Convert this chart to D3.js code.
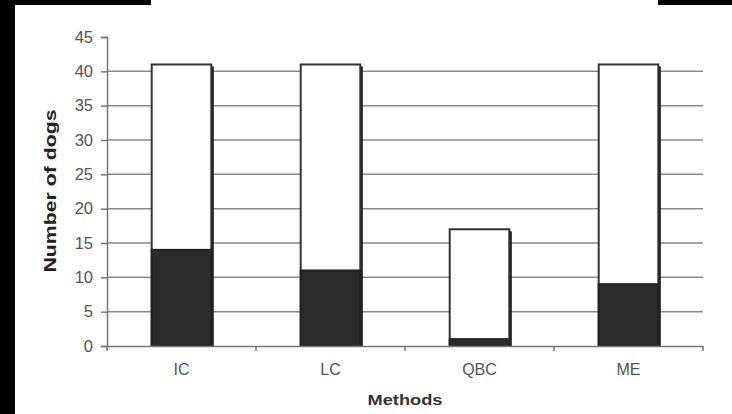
<!DOCTYPE html>
<html><head><meta charset="utf-8">
<script src="https://cdn.jsdelivr.net/npm/d3@7"></script>
<style>body{margin:0;background:#fff}svg{display:block}</style>
</head><body>
<script>
const categories = ["IC", "LC", "QBC", "ME"];
const darkValues = [14, 11, 1, 9];
const totalValues = [41, 41, 17, 41];
const yTicks = [0, 5, 10, 15, 20, 25, 30, 35, 40, 45];

const W = 732, H = 414;
const FONT = "Liberation Sans, Arial, sans-serif";
const svg = d3.select("body").append("svg").attr("width", W).attr("height", H);
svg.append("rect").attr("width", W).attr("height", H).attr("fill", "#fff");
// black scan borders
svg.append("rect").attr("x", 0).attr("y", 0).attr("width", 15).attr("height", H).attr("fill", "#000");
svg.append("rect").attr("x", 0).attr("y", 0).attr("width", 151).attr("height", 5).attr("fill", "#000");
svg.append("rect").attr("x", 658).attr("y", 0).attr("width", 74).attr("height", 5).attr("fill", "#000");

const x = d3.scaleBand().domain(categories).range([107, 703]).paddingInner(0.6).paddingOuter(0.3);
const xb = d3.scaleBand().domain(categories).range([107, 703]);
const y = d3.scaleLinear().domain([0, 45]).range([346, 37]);

// gridlines
svg.append("g").selectAll("line").data(yTicks.filter(d => d > 0 && d < 45)).join("line")
  .attr("x1", 107).attr("x2", 703).attr("y1", d => y(d)).attr("y2", d => y(d))
  .attr("stroke", "#8a8a8a").attr("stroke-width", 1.5);

// y axis
const yAxis = d3.axisLeft(y).tickValues(yTicks).tickSize(6).tickPadding(8);
const gy = svg.append("g").attr("transform", "translate(107,0)").call(yAxis);
gy.select(".domain").attr("stroke", "#777").attr("stroke-width", 1.5);
gy.selectAll(".tick line").attr("stroke", "#777").attr("stroke-width", 1.5);
gy.selectAll("text").attr("font-family", FONT).attr("font-size", 16.5).attr("fill", "#555");

// bars
const data = categories.map((c, i) => ({c, dark: darkValues[i], total: totalValues[i]}));
const bw = x.bandwidth();
const gb = svg.append("g");
data.forEach(d => {
  const x0 = x(d.c);
  gb.append("rect").attr("x", x0 + bw - 1).attr("y", y(d.total) + 2).attr("width", 3.5).attr("height", y(0) - y(d.total) - 2).attr("fill", "#1a1a1a");
  gb.append("rect").attr("x", x0).attr("y", y(d.total)).attr("width", bw).attr("height", y(0) - y(d.total))
    .attr("fill", "#fff").attr("stroke", "#333").attr("stroke-width", 2);
  gb.append("rect").attr("x", x0).attr("y", y(d.dark)).attr("width", bw).attr("height", y(0) - y(d.dark))
    .attr("fill", "#2b2b2b").attr("stroke", "#222").attr("stroke-width", 2);
});

// x axis
const xAxis = d3.axisBottom(xb).tickSize(0).tickPadding(18);
const gx = svg.append("g").attr("transform", "translate(0,346)").call(xAxis);
gx.select(".domain").attr("stroke", "#777").attr("stroke-width", 1.5);
gx.selectAll("text").attr("font-family", FONT).attr("font-size", 16).attr("fill", "#555");
svg.append("g").selectAll("line").data(categories).join("line")
  .attr("x1", d => xb(d)).attr("x2", d => xb(d)).attr("y1", 346).attr("y2", 351)
  .attr("stroke", "#777").attr("stroke-width", 1.5);
svg.append("line").attr("x1", 703).attr("x2", 703).attr("y1", 346).attr("y2", 351).attr("stroke", "#777").attr("stroke-width", 1.5);

// axis titles
svg.append("text").attr("x", 405).attr("y", 405).attr("text-anchor", "middle")
  .attr("font-family", FONT).attr("font-weight", "bold").attr("font-size", 15).attr("fill", "#333")
  .attr("textLength", 75).attr("lengthAdjust", "spacingAndGlyphs")
  .text("Methods");
svg.append("text").attr("transform", "translate(56,191) rotate(-90)").attr("text-anchor", "middle")
  .attr("font-family", FONT).attr("font-weight", "bold").attr("font-size", 17).attr("fill", "#222")
  .attr("textLength", 163).attr("lengthAdjust", "spacingAndGlyphs")
  .text("Number of dogs");
</script>
</body></html>
